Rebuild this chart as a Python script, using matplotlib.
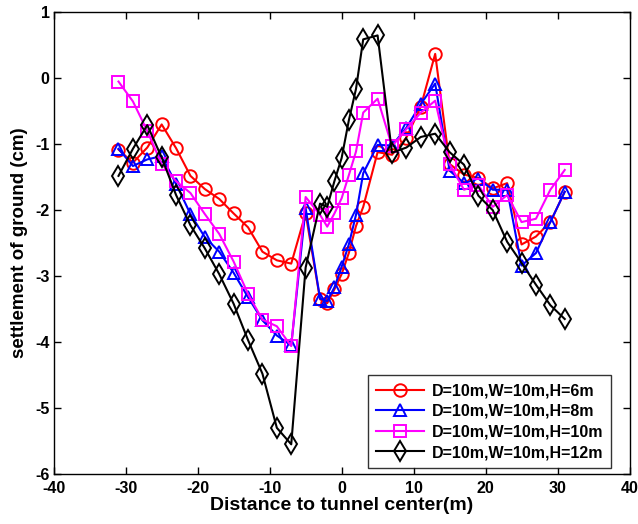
import matplotlib
matplotlib.use("Agg")
import matplotlib.pyplot as plt

plt.rcParams['font.family'] = ['Liberation Sans', 'DejaVu Sans']
plt.rcParams['font.weight'] = 'bold'
plt.rcParams['axes.unicode_minus'] = False

# Distance to tunnel center (m)
distance = [-31, -29, -27, -25, -23, -21, -19, -17, -15, -13, -11, -9, -7, -5,
            -3, -2, -1, 0, 1, 2, 3,
            5, 7, 9, 11, 13, 15, 17, 19, 21, 23, 25, 27, 29, 31]

# Ground settlement (cm) for each overburden height H
settle_h6 = [-1.08, -1.28, -1.05, -0.70, -1.06, -1.48, -1.68, -1.83, -2.05, -2.26,
             -2.63, -2.76, -2.81, -2.05,
             -3.35, -3.41, -3.20, -2.97, -2.65, -2.24, -1.95,
             -1.12, -1.16, -0.90, -0.43, 0.37, -1.30, -1.46, -1.51, -1.67,
             -1.59, -2.52, -2.40, -2.18, -1.72]
settle_h8 = [-1.07, -1.33, -1.23, -1.18, -1.60, -2.06, -2.41, -2.63, -2.95, -3.32,
             -3.67, -3.90, -4.05, -1.97,
             -3.34, -3.38, -3.17, -2.86, -2.52, -2.07, -1.44,
             -1.01, -1.02, -0.75, -0.39, -0.08, -1.40, -1.59, -1.52, -1.69,
             -1.69, -2.84, -2.65, -2.18, -1.72]
settle_h10 = [-0.05, -0.35, -0.80, -1.30, -1.56, -1.74, -2.06, -2.36, -2.78, -3.27,
              -3.66, -3.76, -4.06, -1.80,
              -2.07, -2.25, -2.05, -1.82, -1.47, -1.11, -0.52,
              -0.31, -1.03, -0.77, -0.52, -0.34, -1.30, -1.69, -1.62, -1.95,
              -1.77, -2.18, -2.13, -1.69, -1.39]
settle_h12 = [-1.48, -1.07, -0.71, -1.20, -1.77, -2.23, -2.58, -2.97, -3.42, -3.97,
              -4.48, -5.30, -5.55, -2.87,
              -1.90, -1.95, -1.56, -1.21, -0.64, -0.16, 0.59,
              0.65, -1.13, -1.05, -0.89, -0.84, -1.12, -1.31, -1.78, -2.00,
              -2.48, -2.80, -3.13, -3.44, -3.65]

series_labels = ['D=10m,W=10m,H=6m', 'D=10m,W=10m,H=8m',
                 'D=10m,W=10m,H=10m', 'D=10m,W=10m,H=12m']
x_ticks = [-40, -30, -20, -10, 0, 10, 20, 30, 40]
y_ticks = [-6, -5, -4, -3, -2, -1, 0, 1]

fig = plt.figure(figsize=(6.38, 5.24), dpi=100)
ax = fig.add_axes([0.0842, 0.0954, 0.9025, 0.8811])

styles = [('#ff0000', 'o', 9), ('#0000ff', '^', 9),
          ('#ff00ff', 's', 8), ('#000000', 'd', 10)]
for ys, lab, (col, mk, ms) in zip([settle_h6, settle_h8, settle_h10, settle_h12],
                                  series_labels, styles):
    ax.plot(distance, ys, color=col, marker=mk, markersize=ms,
            markerfacecolor='none', markeredgecolor=col, markeredgewidth=1.4,
            linewidth=1.5, label=lab)

ax.set_xlim(-40, 40)
ax.set_ylim(-6, 1)
ax.set_xticks(x_ticks)
ax.set_yticks(y_ticks)
ax.tick_params(direction='in', length=5, width=1, top=True, right=True,
               labelsize=11.5)
ax.tick_params(axis='x', pad=5)
ax.tick_params(axis='y', pad=3)
for sp in ax.spines.values():
    sp.set_linewidth(1.0)

ax.set_xlabel('Distance to tunnel center(m)', fontsize=14, fontweight='bold',
              labelpad=0.5)
ax.set_ylabel('settlement of ground (cm)', fontsize=13.5, fontweight='bold',
              labelpad=5)

leg = ax.legend(loc='lower right', bbox_to_anchor=(0.968, 0.013),
                borderaxespad=0, fontsize=11.5, handlelength=3.0,
                frameon=True, fancybox=False, edgecolor='black',
                labelspacing=0.35, borderpad=0.5, handletextpad=0.5)
leg.get_frame().set_linewidth(1.0)
for t in leg.get_texts():
    t.set_fontweight('bold')

fig.savefig('out.png', dpi=100)
